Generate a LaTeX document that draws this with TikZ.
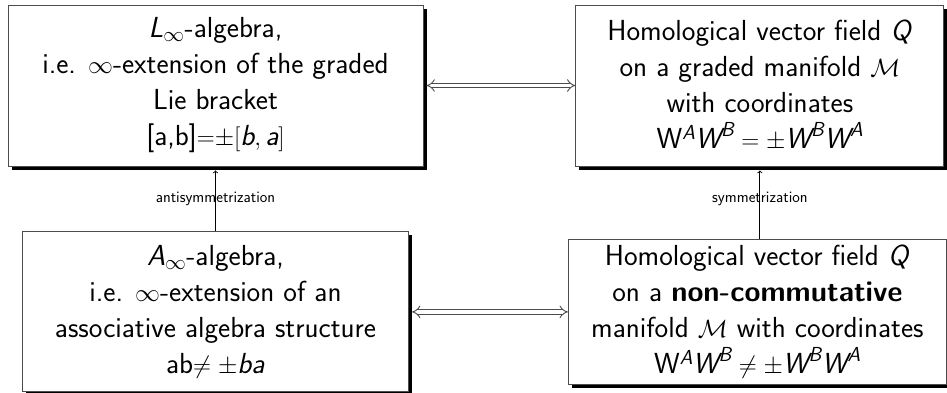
\documentclass[tikz,border=0pt]{standalone}
\usepackage{amsmath}
\usepackage{tikz}
\usetikzlibrary{positioning, arrows, shadows}

\tikzset{
  block/.style={draw=black!70, fill=white, line width=0.9pt, align=center, inner sep=0pt,
    font=\sffamily\fontsize{29}{36}\selectfont,
    drop shadow={shadow xshift=3.5pt, shadow yshift=-3.5pt, fill=black, opacity=1}},
  equiv/.style={draw=black!70, double, double distance=3.5pt, line width=0.9pt, implies-implies},
  sym/.style={->, line width=0.9pt},
  symlabel/.style={font=\sffamily\fontsize{16}{19}\selectfont}
}

\begin{document}
\begin{tikzpicture}
	\useasboundingbox (0,0) rectangle (947pt,-392pt);

	\node[block, minimum width=415pt, minimum height=161pt] (linf) at (215.5pt,-85.5pt) {\textit{L}$_\infty$-algebra,\\ i.e. $\infty$-extension of the graded\\ Lie bracket\\ {[a,b]}${=}{\pm}[\textit{b}, \textit{a}]$};
	\node[block, minimum width=368pt, minimum height=161pt, right = 152pt of linf] (qgr) {Homological vector field \textit{Q}\\ on a graded manifold $\mathcal{M}$\\ with coordinates\\ W$^{\textit{A}}\textit{W}^{\textit{B}} = \pm \textit{W}^{\textit{B}}\textit{W}^{\textit{A}}$};
	\node[block, minimum width=386pt, minimum height=160pt, below = 65pt of linf] (ainf) {\textit{A}$_\infty$-algebra,\\ i.e. $\infty$-extension of an\\ associative algebra structure\\ ab$\neq \pm$\textit{ba}};
	\node[block, minimum width=378pt, minimum height=145pt, right = 159pt of ainf] (qnc) {Homological vector field \textit{Q}\\ on a \textbf{non-commutative}\\ manifold $\mathcal{M}$ with coordinates\\ W$^{\textit{A}}\textit{W}^{\textit{B}} \neq \pm \textit{W}^{\textit{B}}\textit{W}^{\textit{A}}$};

	\draw[equiv, shorten <=3pt] (linf) -- (qgr);
	\draw[equiv, shorten <=3pt] (ainf) -- (qnc);
	\draw[sym, shorten >=4pt] (linf.south |- ainf.north) -- node[symlabel, pos=.5]{antisymmetrization} (linf.south);
	\draw[sym, shorten >=4pt] (qgr.south |- qnc.north) -- node[symlabel, pos=.55]{symmetrization} (qgr.south);
\end{tikzpicture}
\end{document}
